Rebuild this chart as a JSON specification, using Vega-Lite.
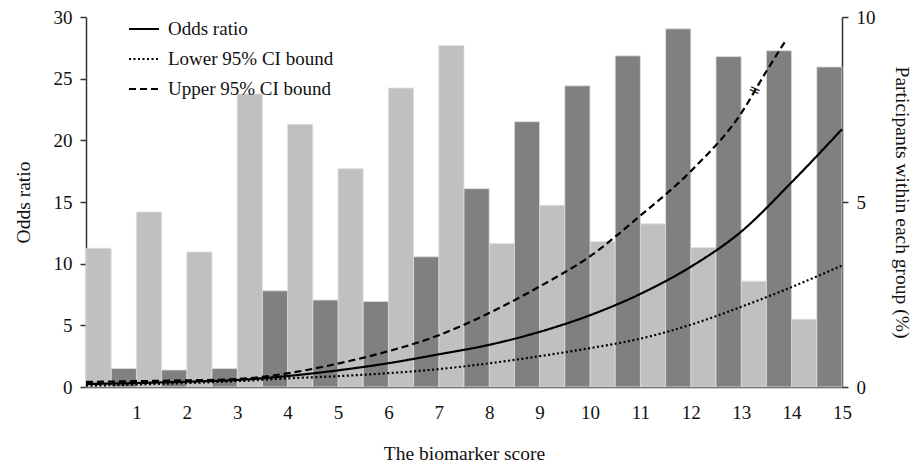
{
  "$schema": "https://vega.github.io/schema/vega-lite/v6.json",
  "autosize": {"type": "none"},
  "width": 756,
  "height": 370,
  "padding": {"left": 86, "top": 17, "right": 75, "bottom": 80},
  "background": "white",
  "config": {
    "view": {"stroke": null},
    "font": "Liberation Serif",
    "axis": {
      "labelFont": "Liberation Serif",
      "titleFont": "Liberation Serif",
      "labelFontSize": 19,
      "titleFontSize": 19.5,
      "titleFontWeight": "normal",
      "labelColor": "#111",
      "titleColor": "#111",
      "domainColor": "#333",
      "domainWidth": 1.5,
      "tickColor": "#333",
      "tickWidth": 1.5,
      "grid": false
    }
  },
  "datasets": {
    "bars": [
      {"score": 0, "group": "light", "pct": 3.75},
      {"score": 1, "group": "light", "pct": 4.73},
      {"score": 2, "group": "light", "pct": 3.65},
      {"score": 3, "group": "light", "pct": 7.92},
      {"score": 4, "group": "light", "pct": 7.1},
      {"score": 5, "group": "light", "pct": 5.9},
      {"score": 6, "group": "light", "pct": 8.08},
      {"score": 7, "group": "light", "pct": 9.23},
      {"score": 8, "group": "light", "pct": 3.88},
      {"score": 9, "group": "light", "pct": 4.91},
      {"score": 10, "group": "light", "pct": 3.93},
      {"score": 11, "group": "light", "pct": 4.41},
      {"score": 12, "group": "light", "pct": 3.77},
      {"score": 13, "group": "light", "pct": 2.86},
      {"score": 14, "group": "light", "pct": 1.83},
      {"score": 1, "group": "dark", "pct": 0.5},
      {"score": 2, "group": "dark", "pct": 0.46},
      {"score": 3, "group": "dark", "pct": 0.5},
      {"score": 4, "group": "dark", "pct": 2.6},
      {"score": 5, "group": "dark", "pct": 2.35},
      {"score": 6, "group": "dark", "pct": 2.31},
      {"score": 7, "group": "dark", "pct": 3.52},
      {"score": 8, "group": "dark", "pct": 5.36},
      {"score": 9, "group": "dark", "pct": 7.17},
      {"score": 10, "group": "dark", "pct": 8.14},
      {"score": 11, "group": "dark", "pct": 8.95},
      {"score": 12, "group": "dark", "pct": 9.68},
      {"score": 13, "group": "dark", "pct": 8.93},
      {"score": 14, "group": "dark", "pct": 9.09},
      {"score": 15, "group": "dark", "pct": 8.65}
    ],
    "curves": [
      {"score": 0, "series": "Odds ratio", "value": 0.24},
      {"score": 1, "series": "Odds ratio", "value": 0.32},
      {"score": 2, "series": "Odds ratio", "value": 0.43},
      {"score": 3, "series": "Odds ratio", "value": 0.57},
      {"score": 4, "series": "Odds ratio", "value": 0.89},
      {"score": 5, "series": "Odds ratio", "value": 1.35},
      {"score": 6, "series": "Odds ratio", "value": 1.93},
      {"score": 7, "series": "Odds ratio", "value": 2.65},
      {"score": 8, "series": "Odds ratio", "value": 3.42},
      {"score": 9, "series": "Odds ratio", "value": 4.47},
      {"score": 10, "series": "Odds ratio", "value": 5.82},
      {"score": 11, "series": "Odds ratio", "value": 7.55},
      {"score": 12, "series": "Odds ratio", "value": 9.75},
      {"score": 13, "series": "Odds ratio", "value": 12.6},
      {"score": 14, "series": "Odds ratio", "value": 16.6},
      {"score": 15, "series": "Odds ratio", "value": 20.9},
      {"score": 0, "series": "Lower 95% CI bound", "value": 0.1},
      {"score": 1, "series": "Lower 95% CI bound", "value": 0.2},
      {"score": 2, "series": "Lower 95% CI bound", "value": 0.32},
      {"score": 3, "series": "Lower 95% CI bound", "value": 0.48},
      {"score": 4, "series": "Lower 95% CI bound", "value": 0.7},
      {"score": 5, "series": "Lower 95% CI bound", "value": 0.88},
      {"score": 6, "series": "Lower 95% CI bound", "value": 1.12},
      {"score": 7, "series": "Lower 95% CI bound", "value": 1.45},
      {"score": 8, "series": "Lower 95% CI bound", "value": 1.92},
      {"score": 9, "series": "Lower 95% CI bound", "value": 2.5},
      {"score": 10, "series": "Lower 95% CI bound", "value": 3.15},
      {"score": 11, "series": "Lower 95% CI bound", "value": 3.92},
      {"score": 12, "series": "Lower 95% CI bound", "value": 5.05},
      {"score": 13, "series": "Lower 95% CI bound", "value": 6.5},
      {"score": 14, "series": "Lower 95% CI bound", "value": 8.1},
      {"score": 15, "series": "Lower 95% CI bound", "value": 9.85},
      {"score": 0, "series": "Upper 95% CI bound", "value": 0.41},
      {"score": 1, "series": "Upper 95% CI bound", "value": 0.47},
      {"score": 2, "series": "Upper 95% CI bound", "value": 0.54},
      {"score": 3, "series": "Upper 95% CI bound", "value": 0.64},
      {"score": 4, "series": "Upper 95% CI bound", "value": 1.11},
      {"score": 5, "series": "Upper 95% CI bound", "value": 1.9},
      {"score": 6, "series": "Upper 95% CI bound", "value": 2.9},
      {"score": 7, "series": "Upper 95% CI bound", "value": 4.2},
      {"score": 8, "series": "Upper 95% CI bound", "value": 6.0},
      {"score": 9, "series": "Upper 95% CI bound", "value": 8.15},
      {"score": 10, "series": "Upper 95% CI bound", "value": 10.6},
      {"score": 11, "series": "Upper 95% CI bound", "value": 13.9},
      {"score": 12, "series": "Upper 95% CI bound", "value": 17.5},
      {"score": 13, "series": "Upper 95% CI bound", "value": 22.2},
      {"score": 13.5, "series": "Upper 95% CI bound", "value": 25.6},
      {"score": 13.9, "series": "Upper 95% CI bound", "value": 28.2}
    ],
    "brk": [
      {"score": 13.27, "value": 24.1, "label": "="}
    ]
  },
  "layer": [
    {
      "data": {"name": "bars"},
      "transform": [
        {"calculate": "datum.group == 'light' ? datum.score : datum.score - 0.5", "as": "x0"},
        {"calculate": "datum.group == 'light' ? datum.score + 0.5 : datum.score", "as": "x1"}
      ],
      "mark": {"type": "rect", "stroke": "#e0e0e0", "strokeWidth": 0.8},
      "encoding": {
        "x": {
          "field": "x0", "type": "quantitative",
          "scale": {"domain": [0, 15], "nice": false, "zero": false},
          "axis": {
            "title": "The biomarker score",
            "values": [1,2,3,4,5,6,7,8,9,10,11,12,13,14,15],
            "ticks": false,
            "labelPadding": 16,
            "titlePadding": 22,
            "labelFlush": false
          }
        },
        "x2": {"field": "x1"},
        "y": {
          "field": "pct", "type": "quantitative",
          "scale": {"domain": [0, 10], "nice": false},
          "axis": {
            "orient": "right",
            "title": "Participants within each group (%)",
            "values": [0, 5, 10],
            "tickSize": 6,
            "labelPadding": 8,
            "titlePadding": 16,
            "titleAngle": 90
          }
        },
        "y2": {"datum": 0},
        "color": {
          "field": "group", "type": "nominal",
          "scale": {"domain": ["light", "dark"], "range": ["#c0c0c0", "#808080"]},
          "legend": null
        }
      }
    },
    {
      "layer": [
        {
          "data": {"name": "curves"},
          "mark": {"type": "line", "color": "black", "strokeWidth": 2.2, "interpolate": "monotone"},
          "encoding": {
            "x": {"field": "score", "type": "quantitative", "scale": {"domain": [0, 15], "nice": false, "zero": false}},
            "y": {
              "field": "value", "type": "quantitative",
              "scale": {"domain": [0, 30], "nice": false},
              "axis": {
                "orient": "left",
                "title": "Odds ratio",
                "values": [0, 5, 10, 15, 20, 25, 30],
                "tickSize": 6,
                "labelPadding": 8,
                "titlePadding": 20
              }
            },
            "strokeDash": {
              "field": "series", "type": "nominal",
              "scale": {
                "domain": ["Odds ratio", "Lower 95% CI bound", "Upper 95% CI bound"],
                "range": [[1, 0], [2, 2.5], [7, 4]]
              },
              "legend": {
                "title": null,
                "orient": "none",
                "legendX": 42,
                "legendY": -4,
                "symbolType": "stroke",
                "symbolSize": 900,
                "symbolStrokeWidth": 2,
                "symbolStrokeColor": "black",
                "labelFont": "Liberation Serif",
                "labelFontSize": 19,
                "labelLimit": 400,
                "labelColor": "#111",
                "rowPadding": 4,
                "labelOffset": 8
              }
            }
          }
        },
        {
          "data": {"name": "brk"},
          "mark": {"type": "text", "font": "DejaVu Sans", "fontSize": 15, "angle": 25, "color": "black"},
          "encoding": {
            "x": {"field": "score", "type": "quantitative"},
            "y": {"field": "value", "type": "quantitative"},
            "text": {"field": "label"}
          }
        }
      ]
    }
  ],
  "resolve": {"scale": {"y": "independent", "color": "independent"}}
}
